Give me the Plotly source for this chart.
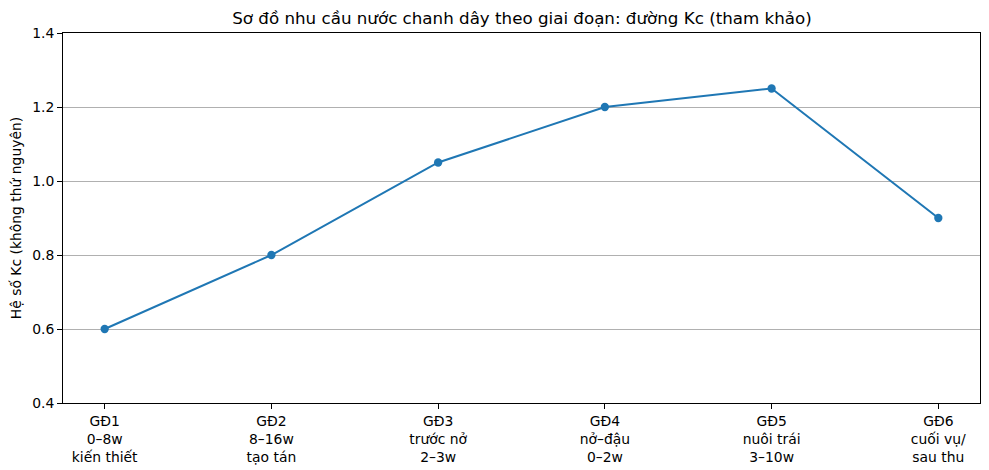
import plotly.graph_objects as go

# Dữ liệu đường Kc theo giai đoạn
giai_doan = ["GĐ1<br>0–8w<br>kiến thiết", "GĐ2<br>8–16w<br>tạo tán",
             "GĐ3<br>trước nở<br>2–3w", "GĐ4<br>nở–đậu<br>0–2w",
             "GĐ5<br>nuôi trái<br>3–10w", "GĐ6<br>cuối vụ/<br>sau thu"]
kc = [0.6, 0.8, 1.05, 1.2, 1.25, 0.9]
y_ticks = [0.4, 0.6, 0.8, 1.0, 1.2, 1.4]

x_pos = list(range(len(giai_doan)))

fig = go.Figure(go.Scatter(
    x=x_pos,
    y=kc,
    mode='lines+markers',
    line=dict(color='#1f77b4', width=2),
    marker=dict(color='#1f77b4', size=8.3),
    showlegend=False,
))

# trang có lề body 8px, nên thu nhỏ khung cho vừa cửa sổ
fig.update_layout(
    width=981,
    height=462,
    margin=dict(l=55, r=9, t=25, b=67, autoexpand=False),
    plot_bgcolor='white',
    paper_bgcolor='white',
    font=dict(family='DejaVu Sans', size=13.9, color='black'),
    title=dict(
        text='Sơ đồ nhu cầu nước chanh dây theo giai đoạn: đường Kc (tham khảo)',
        x=(522 - 8) / 981, xanchor='center', y=1 - 10 / 462, yanchor='middle',
        font=dict(size=16.7),
    ),
    xaxis=dict(
        range=[-0.25, 5.25],
        tickmode='array',
        tickvals=x_pos,
        ticktext=giai_doan,
        showgrid=False,
        zeroline=False,
        showline=True, linecolor='black', linewidth=1, mirror=True,
        ticks='outside', ticklen=5, tickcolor='black',
        automargin=False,
    ),
    yaxis=dict(
        range=[0.4, 1.4],
        tickmode='array',
        tickvals=y_ticks,
        ticktext=[f"{v:.1f}" for v in y_ticks],
        showgrid=True, gridcolor='#b0b0b0', gridwidth=1,
        zeroline=False,
        showline=True, linecolor='black', linewidth=1, mirror=True,
        ticks='outside', ticklen=5, tickcolor='black',
        automargin=False,
        title=dict(text='Hệ số Kc (không thứ nguyên)', standoff=8,
                   font=dict(size=13.9)),
    ),
)

fig.write_html("out.html")
